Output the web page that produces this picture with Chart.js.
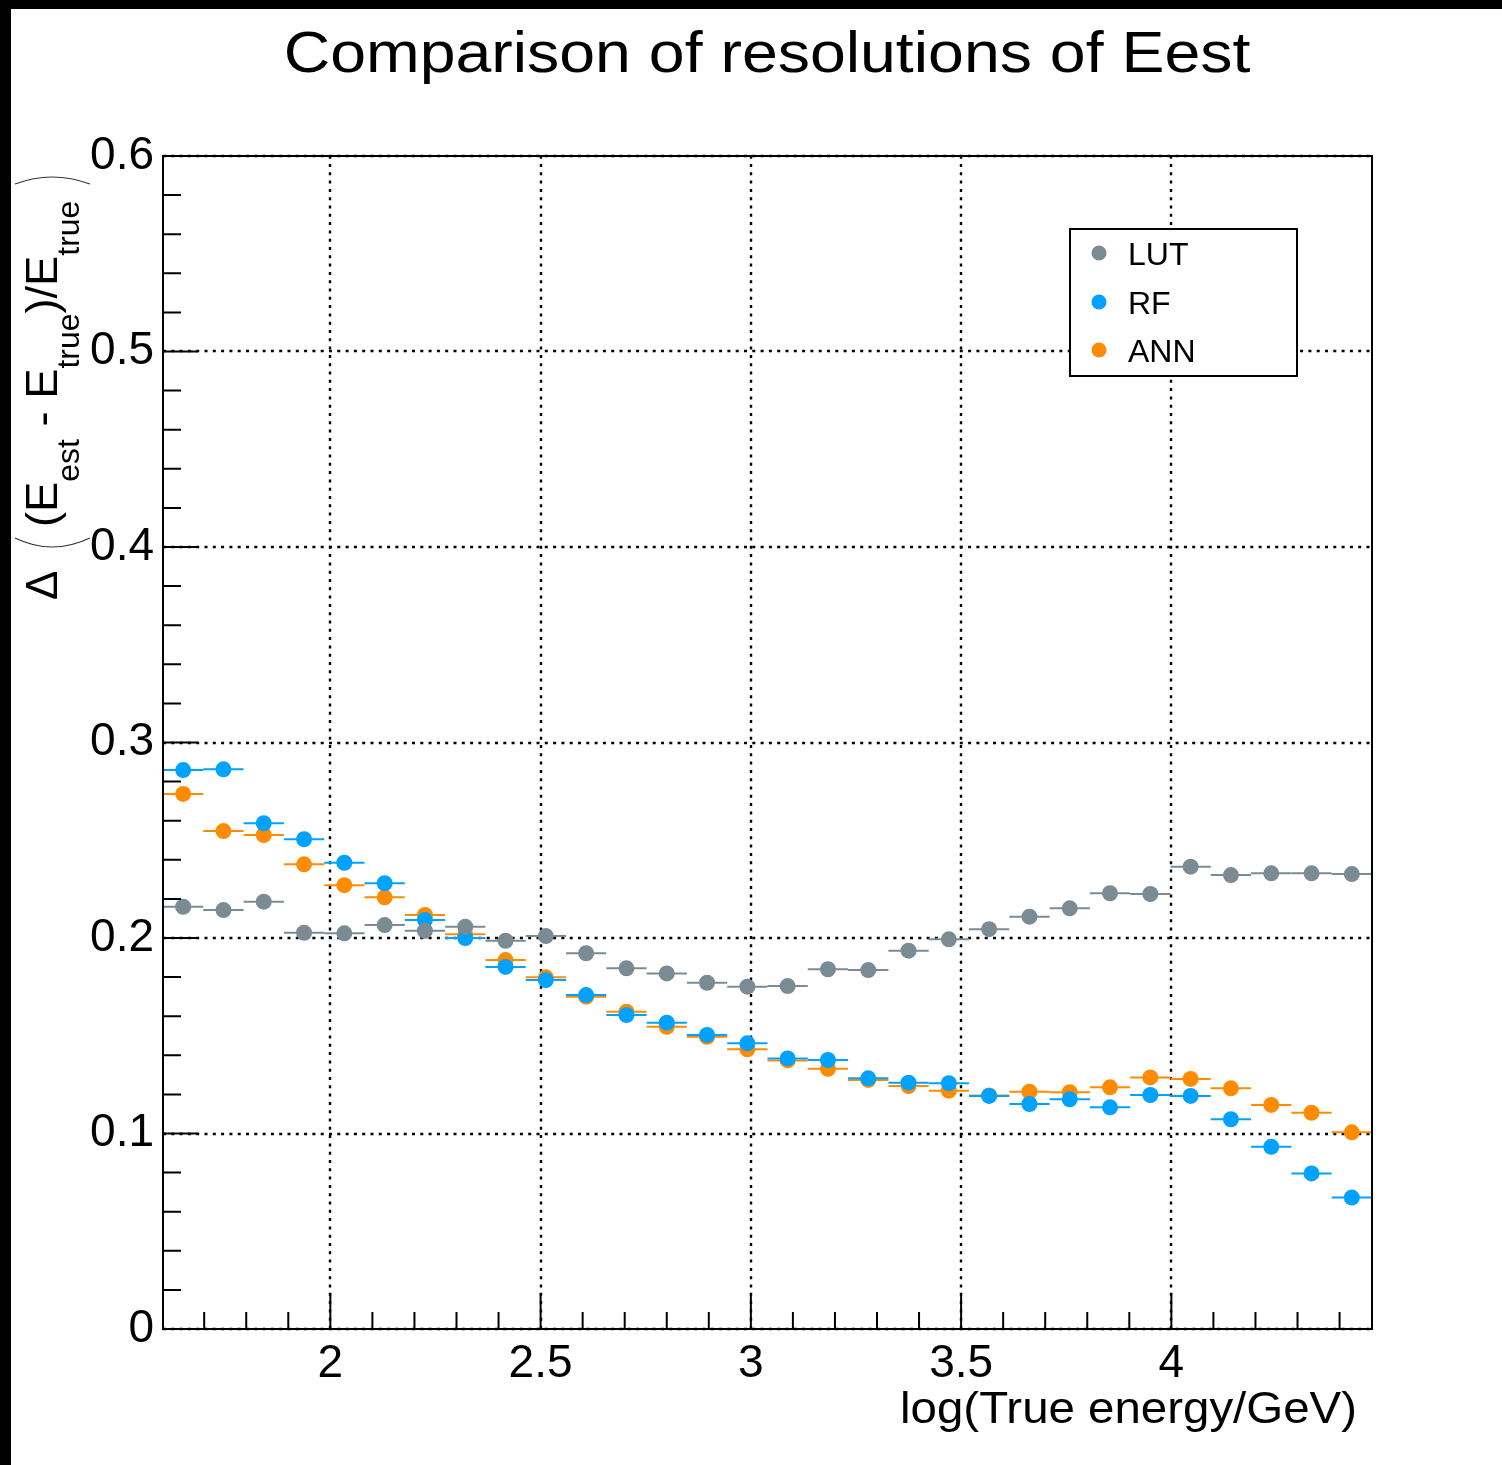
<!DOCTYPE html>
<html><head><meta charset="utf-8">
<script src="https://cdn.jsdelivr.net/npm/chart.js@4.4.1/dist/chart.umd.min.js"></script>
<style>html,body{margin:0;padding:0;background:#fff;overflow:hidden}canvas{display:block}</style>
</head><body>
<canvas id="c" width="1502" height="1465"></canvas>
<script>
// ---- data ----
const binCenters = [1.6500,1.7458,1.8416,1.9375,2.0333,2.1292,2.2250,2.3208,2.4167,2.5125,
  2.6083,2.7042,2.8000,2.8958,2.9917,3.0875,3.1833,3.2792,3.3750,3.4708,
  3.5666,3.6625,3.7583,3.8541,3.9500,4.0458,4.1416,4.2375,4.3333,4.4291];
const binHalfWidth = 0.04792;
const lutValues = [0.2160,0.2143,0.2186,0.2027,0.2024,0.2066,0.2037,0.2058,0.1986,0.2010,
  0.1922,0.1845,0.1819,0.1771,0.1751,0.1754,0.1840,0.1836,0.1935,0.1993,
  0.2045,0.2109,0.2152,0.2229,0.2225,0.2365,0.2322,0.2331,0.2331,0.2327];
const rfValues = [0.2859,0.2863,0.2587,0.2505,0.2385,0.2280,0.2092,0.2000,0.1852,0.1785,
  0.1708,0.1606,0.1567,0.1504,0.1461,0.1384,0.1376,0.1282,0.1260,0.1257,
  0.1192,0.1151,0.1175,0.1134,0.1197,0.1192,0.1073,0.0932,0.0796,0.0672];
const annValues = [0.2737,0.2547,0.2527,0.2377,0.2270,0.2208,0.2118,0.2019,0.1887,0.1799,
  0.1700,0.1623,0.1546,0.1495,0.1431,0.1374,0.1331,0.1274,0.1243,0.1219,
  0.1195,0.1214,0.1211,0.1236,0.1287,0.1279,0.1231,0.1146,0.1106,0.1006];
const seriesNames = ['LUT','RF','ANN'];
const seriesColors = ['#7b8b94','#00a2ff','#ff8c00'];
const xTickValues = [2,2.5,3,3.5,4];
const xTickLabels = ['2','2.5','3','3.5','4'];
const yTickValues = [0,0.1,0.2,0.3,0.4,0.5,0.6];
const yTickLabels = ['0','0.1','0.2','0.3','0.4','0.5','0.6'];
const xMin = 1.60206, xMax = 4.47712, yMin = 0, yMax = 0.6;
const titleText = 'Comparison of resolutions of Eest';
const xTitleText = 'log(True energy/GeV)';

const FONT = '"Liberation Sans", Arial, Helvetica, sans-serif';

function toPoints(vals){ return vals.map((v,i)=>({x:binCenters[i], y:v})); }
const allSeries = [lutValues, rfValues, annValues];

function stretchedText(ctx, text, x, y, sx, align){
  ctx.save();
  ctx.translate(x, y); ctx.scale(sx, 1);
  ctx.textAlign = align;
  ctx.fillText(text, 0, 0);
  ctx.restore();
}

const rootPlugin = {
  id:'rootStyle',
  beforeDraw(chart){
    const ctx = chart.ctx;
    ctx.save();
    ctx.fillStyle = '#fff'; ctx.fillRect(0,0,chart.width,chart.height);
    ctx.fillStyle = '#000';
    ctx.fillRect(0,0,chart.width,9);
    ctx.fillRect(0,0,11,chart.height);
    ctx.restore();
  },
  beforeDatasetsDraw(chart){
    const ctx = chart.ctx, a = chart.chartArea;
    const xs = chart.scales.x, ys = chart.scales.y;
    ctx.save();
    ctx.strokeStyle = '#000'; ctx.lineWidth = 2.4; ctx.setLineDash([3,5.3]);
    xs.ticks.forEach(t=>{
      const px = Math.round(xs.getPixelForValue(t.value));
      ctx.beginPath(); ctx.moveTo(px, a.bottom); ctx.lineTo(px, a.top); ctx.stroke();
    });
    ys.ticks.forEach(t=>{
      const py = Math.round(ys.getPixelForValue(t.value));
      ctx.beginPath(); ctx.moveTo(a.left, py); ctx.lineTo(a.right, py); ctx.stroke();
    });
    ctx.restore();
  },
  beforeDatasetDraw(chart, args){
    const ctx = chart.ctx;
    const xs = chart.scales.x, ys = chart.scales.y;
    const ds = chart.data.datasets[args.index];
    ctx.save();
    ctx.strokeStyle = ds.backgroundColor; ctx.lineWidth = 2;
    ds.data.forEach(p=>{
      const py = ys.getPixelForValue(p.y);
      ctx.beginPath();
      ctx.moveTo(xs.getPixelForValue(p.x - binHalfWidth), py);
      ctx.lineTo(xs.getPixelForValue(p.x + binHalfWidth), py);
      ctx.stroke();
    });
    ctx.restore();
  },
  afterDatasetsDraw(chart){
    const ctx = chart.ctx, a = chart.chartArea;
    const xs = chart.scales.x, ys = chart.scales.y;
    ctx.save();
    // frame
    ctx.strokeStyle = '#000'; ctx.lineWidth = 2; ctx.setLineDash([]);
    ctx.strokeRect(a.left, a.top, a.right - a.left, a.bottom - a.top);
    // ticks
    ctx.beginPath();
    for (let k = 0; k <= 30; k++) {
      const v = Math.round((yMin + k*0.02)*1000)/1000;
      const py = ys.getPixelForValue(v);
      const len = (k % 5 === 0) ? 35 : 18;
      ctx.moveTo(a.left, py); ctx.lineTo(a.left + len, py);
    }
    for (let k = 17; k <= 44; k++) {
      const v = k/10;
      const px = xs.getPixelForValue(v);
      const len = (k % 5 === 0) ? 36 : 17;
      ctx.moveTo(px, a.bottom); ctx.lineTo(px, a.bottom - len);
    }
    ctx.stroke();
    // title
    ctx.fillStyle = '#000';
    ctx.textBaseline = 'alphabetic';
    ctx.font = '57px ' + FONT;
    stretchedText(ctx, titleText, 767, 72, 1.13, 'center');
    // x title
    ctx.font = '44px ' + FONT;
    stretchedText(ctx, xTitleText, 1357, 1423, 1.078, 'right');
    // y title
    ctx.save();
    ctx.translate(57, 600); ctx.rotate(-Math.PI/2);
    ctx.textAlign = 'left';
    ctx.font = '44px ' + FONT;
    ctx.fillText('\u0394', 0, 0);
    ctx.restore();
    ctx.save();
    ctx.translate(57, 527); ctx.rotate(-Math.PI/2); ctx.scale(1.03, 1);
    ctx.textAlign = 'left';
    const parts = [['(E',0],['est',1],[' - E',0],['true',1],[')/E',0],['true',1]];
    let cx = 0;
    parts.forEach(([t,sub])=>{
      ctx.font = (sub ? '31px ' : '44px ') + FONT;
      ctx.fillText(t, cx, sub ? 22 : 0);
      cx += ctx.measureText(t).width;
    });
    ctx.restore();
    // big bracket arcs
    ctx.strokeStyle = '#333'; ctx.lineWidth = 1.2;
    ctx.beginPath(); ctx.moveTo(15,538); ctx.quadraticCurveTo(52,556,90,538); ctx.stroke();
    ctx.beginPath(); ctx.moveTo(15,184); ctx.quadraticCurveTo(52,170,90,184); ctx.stroke();
    // legend
    ctx.fillStyle = '#fff'; ctx.fillRect(1070,229,227,147);
    ctx.strokeStyle = '#000'; ctx.lineWidth = 2;
    ctx.strokeRect(1070,229,227,147);
    const ly = [253,302,350];
    seriesNames.forEach((n,i)=>{
      ctx.fillStyle = seriesColors[i];
      ctx.beginPath(); ctx.arc(1099, ly[i], 7.5, 0, Math.PI*2); ctx.fill();
      ctx.fillStyle = '#000';
      ctx.font = '32px ' + FONT; ctx.textAlign = 'left'; ctx.textBaseline = 'alphabetic';
      ctx.fillText(n, 1128, ly[i] + 11.5);
    });
    ctx.restore();
  }
};

const chart = new Chart(document.getElementById('c'), {
  type: 'scatter',
  data: {
    datasets: seriesNames.map((n,i)=>({
      label: n,
      data: toPoints(allSeries[i]),
      backgroundColor: seriesColors[i],
      borderColor: seriesColors[i],
      pointRadius: 8,
      pointBorderWidth: 0,
      pointHoverRadius: 8,
      showLine: false
    }))
  },
  options: {
    responsive: false,
    animation: false,
    events: [],
    layout: { padding: { top: 156, right: 130, bottom: 0, left: 0 } },
    plugins: { legend: { display: false }, title: { display: false }, tooltip: { enabled: false } },
    scales: {
      x: {
        type: 'linear', min: xMin, max: xMax,
        grid: { display: false, drawTicks: false },
        border: { display: false },
        afterBuildTicks(scale){ scale.ticks = xTickValues.map(v=>({value:v})); },
        afterFit(scale){ scale.height = 136; },
        ticks: {
          padding: 8, color: '#000', maxRotation: 0, autoSkip: false,
          font: { family: FONT, size: 46 },
          callback: (v, i) => xTickLabels[i]
        }
      },
      y: {
        type: 'linear', min: yMin, max: yMax,
        grid: { display: false, drawTicks: false },
        border: { display: false },
        afterBuildTicks(scale){ scale.ticks = yTickValues.map(v=>({value:v})); },
        afterFit(scale){ scale.width = 163; },
        ticks: {
          padding: 9, color: '#000', autoSkip: false,
          font: { family: FONT, size: 46 },
          callback: (v, i) => yTickLabels[i]
        }
      }
    }
  },
  plugins: [rootPlugin]
});
</script>
</body></html>
